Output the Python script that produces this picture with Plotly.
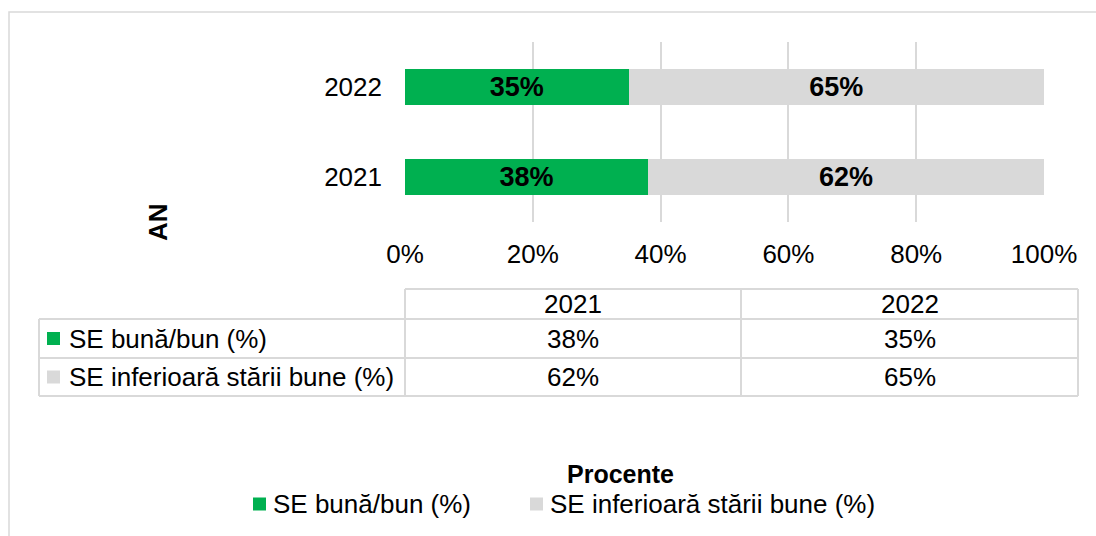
import plotly.graph_objects as go

W, H = 1096, 536

# ---- data ----
years = ["2021", "2022"]
series_names = ["SE bună/bun (%)", "SE inferioară stării bune (%)"]
good = [38, 35]
below_good = [62, 65]
x_ticks = [0, 20, 40, 60, 80, 100]
x_tick_labels = ["0%", "20%", "40%", "60%", "80%", "100%"]
x_title = "Procente"
y_title = "AN"

GREEN = "#00b050"
GREY = "#d9d9d9"
LINE = "#d9d9d9"
FONT = "Liberation Sans, Arial, sans-serif"


def px(x):
    return x / W


def py(y):
    return 1 - y / H


series_values = [good, below_good]
series_colors = [GREEN, GREY]

fig = go.Figure()
for name, vals, color in zip(series_names, series_values, series_colors):
    fig.add_trace(go.Bar(
        y=years, x=vals, name=name, orientation="h",
        marker=dict(color=color, line=dict(width=0)),
        width=0.4,
        text=[f"{v}%" for v in vals],
        textposition="inside", insidetextanchor="middle",
        constraintext="none",
        textfont=dict(family=FONT, size=27, color="black", weight="bold"),
        hoverinfo="skip", showlegend=False,
    ))

shapes = []
annotations = []

# outer chart border
shapes.append(dict(type="rect", xref="paper", yref="paper",
                   x0=px(9), x1=px(1110), y0=py(12), y1=py(560),
                   line=dict(color=LINE, width=1.5), layer="below"))

# ---- data table under the axis ----
tab_left, col1, col2, tab_right = 39, 405, 741, 1078
row_top, row1, row2, row_bot = 289, 319, 358, 396


def hline(x0, x1, y):
    shapes.append(dict(type="line", xref="paper", yref="paper",
                       x0=px(x0), x1=px(x1), y0=py(y), y1=py(y),
                       line=dict(color=LINE, width=2)))


def vline(x, y0, y1):
    shapes.append(dict(type="line", xref="paper", yref="paper",
                       x0=px(x), x1=px(x), y0=py(y0), y1=py(y1),
                       line=dict(color=LINE, width=2)))


hline(col1, tab_right, row_top)
for yy in (row1, row2, row_bot):
    hline(tab_left, tab_right, yy)
vline(tab_left, row1, row_bot)
for xx in (col1, col2, tab_right):
    vline(xx, row_top, row_bot)


def text(x, y, s, anchor="center", size=26, bold=False, angle=0):
    annotations.append(dict(
        xref="paper", yref="paper", x=px(x), y=py(y), text=s,
        xanchor=anchor, yanchor="middle", showarrow=False, textangle=angle,
        font=dict(family=FONT, size=size, color="black",
                  weight="bold" if bold else "normal")))


def key(x, y, color):
    shapes.append(dict(type="rect", xref="paper", yref="paper",
                       x0=px(x), x1=px(x + 13), y0=py(y - 6.5), y1=py(y + 6.5),
                       line=dict(width=0), fillcolor=color))


col_centers = [(col1 + col2) / 2, (col2 + tab_right) / 2]
row_centers = [(row1 + row2) / 2, (row2 + row_bot) / 2]
for yr, cx in zip(years, col_centers):
    text(cx, (row_top + row1) / 2, yr)
for name, vals, color, cy in zip(series_names, series_values, series_colors, row_centers):
    key(47, cy, color)
    text(67, cy, name, anchor="left")
    for v, cx in zip(vals, col_centers):
        text(cx, cy, f"{v}%")

# axis titles
text(620, 474, x_title, size=25, bold=True)
text(158, 222, y_title, size=26, bold=True, angle=-90)

# bottom legend
legend_pos = [(253, 271), (530, 548)]
for name, color, (kx, tx) in zip(series_names, series_colors, legend_pos):
    key(kx, 504, color)
    text(tx, 504, name, anchor="left")

fig.update_layout(
    width=W, height=H, autosize=False,
    margin=dict(l=0, r=0, t=0, b=0, autoexpand=False),
    paper_bgcolor="white", plot_bgcolor="white",
    barmode="stack", bargap=0.6,
    font=dict(family=FONT, size=26, color="black"),
    xaxis=dict(
        domain=[px(405), px(1044)], range=[0, 100],
        tickvals=x_ticks, ticktext=x_tick_labels,
        showgrid=True, gridcolor=LINE, gridwidth=2,
        zeroline=False, showline=False, ticks="",
        ticklabelstandoff=14, automargin=False,
        tickfont=dict(family=FONT, size=26, color="black"),
        fixedrange=True,
    ),
    yaxis=dict(
        domain=[py(222), py(42)], range=[-0.5, 1.5],
        type="category", categoryorder="array", categoryarray=years,
        showgrid=False, zeroline=False, showline=False, ticks="",
        ticklabelstandoff=22, automargin=False,
        tickfont=dict(family=FONT, size=26, color="black"),
        fixedrange=True,
    ),
    shapes=shapes,
    annotations=annotations,
    showlegend=False,
)

fig.write_html("out.html")
